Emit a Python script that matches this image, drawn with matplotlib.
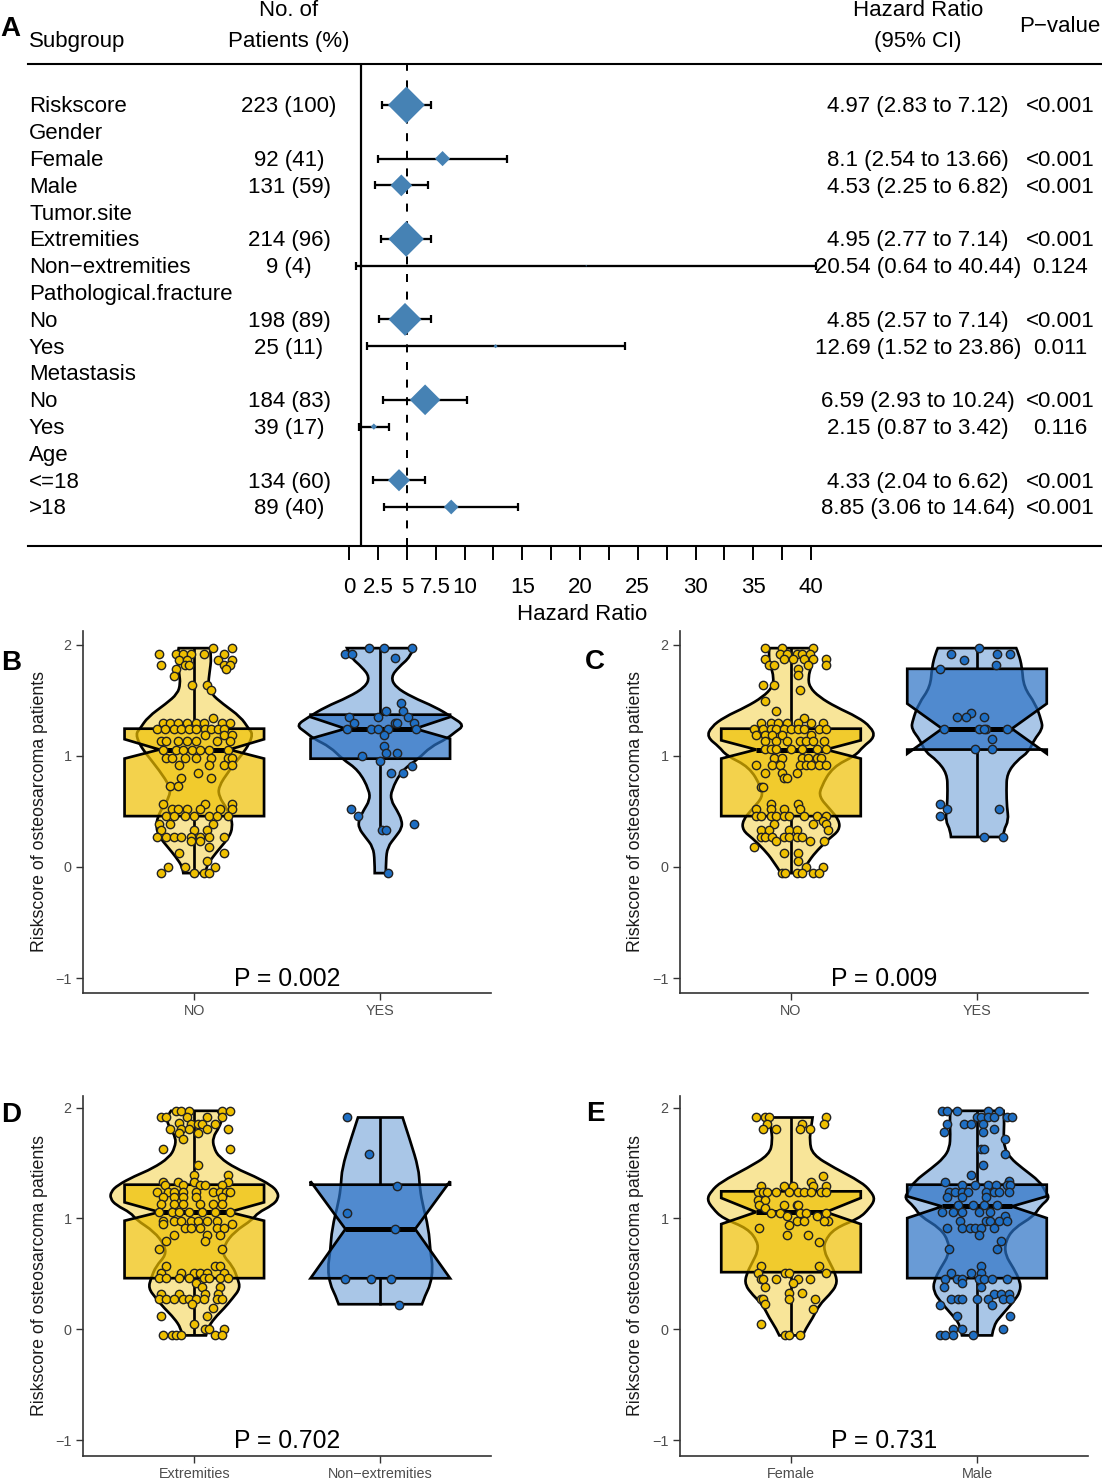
import matplotlib
matplotlib.use('Agg')
import matplotlib.pyplot as plt
import numpy as np
from matplotlib.patches import PathPatch, Polygon
from matplotlib.path import Path
from matplotlib.transforms import blended_transform_factory

plt.rcParams['font.family'] = ['Liberation Sans', 'DejaVu Sans']

W, H = 1102, 1479

# forest plot table, one entry per row
subgroups = ['Riskscore', 'Gender', 'Female', 'Male', 'Tumor.site', 'Extremities',
             'Non\u2212extremities', 'Pathological.fracture', 'No', 'Yes', 'Metastasis',
             'No', 'Yes', 'Age', '<=18', '>18']
patients = ['223 (100)', '', '92 (41)', '131 (59)', '', '214 (96)', '9 (4)', '',
            '198 (89)', '25 (11)', '', '184 (83)', '39 (17)', '', '134 (60)', '89 (40)']
percents = [100, 0, 41, 59, 0, 96, 4, 0, 89, 11, 0, 83, 17, 0, 60, 40]
hr = [4.97, np.nan, 8.1, 4.53, np.nan, 4.95, 20.54, np.nan, 4.85, 12.69, np.nan,
      6.59, 2.15, np.nan, 4.33, 8.85]
hr_low = [2.83, np.nan, 2.54, 2.25, np.nan, 2.77, 0.64, np.nan, 2.57, 1.52, np.nan,
          2.93, 0.87, np.nan, 2.04, 3.06]
hr_high = [7.12, np.nan, 13.66, 6.82, np.nan, 7.14, 40.44, np.nan, 7.14, 23.86, np.nan,
           10.24, 3.42, np.nan, 6.62, 14.64]
hr_text = ['4.97 (2.83 to 7.12)', '', '8.1 (2.54 to 13.66)', '4.53 (2.25 to 6.82)', '',
           '4.95 (2.77 to 7.14)', '20.54 (0.64 to 40.44)', '', '4.85 (2.57 to 7.14)',
           '12.69 (1.52 to 23.86)', '', '6.59 (2.93 to 10.24)', '2.15 (0.87 to 3.42)', '',
           '4.33 (2.04 to 6.62)', '8.85 (3.06 to 14.64)']
p_text = ['<0.001', '', '<0.001', '<0.001', '', '<0.001', '0.124', '', '<0.001', '0.011',
          '', '<0.001', '0.116', '', '<0.001', '<0.001']
hr_ticks = [0, 2.5, 5, 7.5, 10, 12.5, 15, 17.5, 20, 22.5, 25, 27.5, 30, 32.5, 35, 37.5, 40]
hr_tick_labels = ['0', '2.5', '5', '7.5', '10', '', '15', '', '20', '', '25', '', '30', '', '35', '', '40']

# violin outlines: score level and half width
b_no_y = [1.97, 1.89, 1.74, 1.65, 1.56, 1.47, 1.35, 1.245, 1.2, 1.11, 1.02, 0.87, 0.72, 0.63, 0.54, 0.45, 0.36, 0.27, 0.18, 0.09, 0, -0.055]
b_no_w = [.084, .093, .081, .075, .09, .152, .25, .292, .314, .296, .26, .188, .129, .134, .17, .197, .206, .188, .143, .099, .063, .059]
b_yes_y = [1.97, 1.89, 1.8, 1.71, 1.62, 1.53, 1.44, 1.35, 1.275, 1.215, 1.155, 1.08, 0.975, 0.87, 0.69, 0.6, 0.51, 0.42, 0.35, 0.27, 0.18, 0.06, -0.055]
b_yes_w = [.179, .161, .099, .057, .081, .17, .296, .385, .452, .403, .358, .269, .206, .116, .059, .057, .09, .116, .116, .081, .039, .03, .03]
c_no_y = [1.97, 1.89, 1.8, 1.71, 1.62, 1.53, 1.44, 1.35, 1.26, 1.17, 1.08, 1.005, 0.9, 0.72, 0.63, 0.527, 0.42, 0.33, 0.257, 0.153, 0.063, -0.055]
c_no_w = [.116, .122, .108, .093, .099, .152, .242, .358, .43, .452, .385, .349, .224, .161, .152, .206, .26, .26, .206, .143, .099, .054]
c_yes_y = [1.97, 1.92, 1.8, 1.62, 1.47, 1.32, 1.245, 1.14, 1.036, 0.96, 0.84, 0.69, 0.54, 0.42, 0.33, 0.27]
c_yes_w = [.211, .224, .242, .251, .314, .346, .353, .305, .278, .215, .161, .158, .161, .17, .143, .14]
d_ext_y = [1.97, 1.91, 1.82, 1.73, 1.64, 1.55, 1.45, 1.38, 1.3, 1.24, 1.18, 1.12, 1.05, 0.99, 0.88, 0.76, 0.67, 0.57, 0.46, 0.37, 0.28, 0.19, 0.1, 0.01, -0.055]
d_ext_w = [.125, .152, .134, .099, .104, .134, .224, .323, .412, .448, .452, .421, .341, .314, .215, .161, .152, .206, .233, .247, .206, .161, .108, .072, .063]
d_non_y = [1.91, 1.7, 1.45, 1.3, 1.15, 0.91, 0.7, 0.55, 0.4, 0.31, 0.226]
d_non_w = [.12, .161, .206, .211, .224, .26, .269, .283, .269, .242, .224]
e_fem_y = [1.91, 1.82, 1.7, 1.575, 1.455, 1.33, 1.244, 1.17, 1.09, 1.0, 0.91, 0.79, 0.7, 0.61, 0.49, 0.4, 0.31, 0.22, 0.1, 0.01, -0.055]
e_fem_w = [.116, .108, .099, .116, .233, .376, .43, .452, .421, .367, .233, .179, .179, .206, .242, .247, .206, .152, .116, .081, .063]
e_mal_y = [1.97, 1.88, 1.76, 1.635, 1.545, 1.455, 1.33, 1.244, 1.184, 1.11, 1.02, 0.91, 0.79, 0.67, 0.55, 0.43, 0.34, 0.25, 0.13, 0.04, -0.055]
e_mal_w = [.143, .147, .143, .147, .179, .242, .34, .367, .391, .34, .305, .197, .152, .152, .197, .233, .233, .197, .134, .09, .081]

# box stats: q3, upper notch, median, lower notch, q1, whisker top, whisker bottom
b_no_box = [1.245, 1.15, 1.057, 0.976, 0.458, 1.97, -0.055]
b_yes_box = [1.371, 1.35, 1.245, 1.155, 0.975, 1.97, 0.33]
c_no_box = [1.245, 1.14, 1.057, 0.976, 0.458, 1.97, -0.055]
c_yes_box = [1.784, 1.47, 1.245, 1.02, 1.057, 1.97, 0.27]
d_ext_box = [1.304, 1.145, 1.057, 0.979, 0.461, 1.97, -0.055]
d_non_box = [1.304, 1.334, 0.904, 0.46, 0.46, 1.91, 0.22]
e_fem_box = [1.244, 1.184, 1.057, 0.949, 0.515, 1.91, -0.055]
e_mal_box = [1.304, 1.199, 1.108, 1.003, 0.461, 1.97, -0.055]

# jittered patients: score level -> offsets from the category centre
b_no_pts = {1.97: [.10, .20], 1.92: [-.19, -.10, -.06, -.02, .05, .16], 1.86: [-.08, -.04, .13, .20],
            1.82: [-.18, -.05, -.03, .16, .19], 1.78: [-.10, .17], 1.72: [-.11], 1.64: [-.01, .07], 1.59: [.09],
            1.34: [.10], 1.30: [-.17, -.13, -.09, -.04, .01, .05, .15, .19],
            1.245: [-.20, -.16, -.11, -.07, -.03, .01, .06, .09, .13, .16], 1.19: [.06, .16, .20],
            1.13: [-.18, -.15, -.09, -.04, .01, .12, .19], 1.057: [-.17, -.10, -.06, -.01, .03, .08, .18],
            .98: [-.15, -.12, -.05, .01, .09, .18, .2], .92: [-.08, .08, .16, .2], .85: [.02], .80: [-.07, .09],
            .73: [-.13, -.09], .57: [-.17, .06, .2], .52: [-.12, -.09, -.04, .03, .14, .2],
            .46: [-.15, -.11, -.05, 0, .08, .12, .18], .385: [-.19, -.13, .1], .33: [-.18, 0, .07],
            .27: [-.2, -.15, -.11, -.07, -.02, .03, .08, .16], .23: [-.02, .03], .18: [.08], .13: [-.08, .16],
            .05: [.07], 0: [-.14, -.05, .11], -.055: [-.18, 0, .05, .08]}
b_yes_pts = {1.97: [-.06, .02, .17], 1.92: [-.19, -.15], 1.88: [.08], 1.48: [.11], 1.40: [.03, .12],
             1.35: [-.17, -.01, .15], 1.30: [-.14, .08, .09, .18], 1.245: [-.18, -.05, -.01, .04, .19], 1.19: [.02],
             1.09: [.02], 1.03: [.03, .09], 1.0: [-.1], .95: [0], .91: [.17], .85: [.06, .12], .52: [-.16],
             .46: [-.12], .385: [.18], .33: [.01, .03], -.055: [.04]}
c_no_pts = {1.97: [-.14, -.05, .12], 1.92: [-.06, -.02, .03, .06, .1], 1.87: [-.14, -.04, .01, .07, .12, .19],
            1.82: [-.12, -.09, .09, .19], 1.78: [.04], 1.73: [.04], 1.64: [-.15, -.09], 1.59: [.05], 1.49: [-.14],
            1.40: [-.08], 1.34: [.07], 1.30: [-.16, -.11, -.07, -.02, .04, .11, .17],
            1.245: [-.2, -.15, -.11, -.08, -.04, 0, .04, .07, .15, .19], 1.19: [-.19, -.14, -.1, -.05, .11],
            1.13: [-.14, -.08, -.02, .05, .08, .12, .18], 1.06: [-.14, -.11, -.08, 0, .06, .14, .19],
            .98: [-.09, -.05, .06, .09, .14, .16], .92: [-.19, -.1, -.06, .05, .08, .11, .15, .19],
            .85: [-.14, -.05, .03], .80: [-.04, -.02], .72: [-.16, -.15], .57: [-.11, .04],
            .52: [-.19, -.11, -.04, .05], .46: [-.19, -.16, -.11, -.08, -.04, -.01, .07, .14, .19], .41: [.17],
            .385: [-.09, .12, .19], .33: [-.16, -.12, -.01, .03, .2], .27: [-.16, -.14, -.1, -.04, -.01, .03, .06],
            .23: [-.08, .1, .18], .18: [-.2], .13: [-.04, .04], .05: [.04], 0: [.08, .17],
            -.055: [-.05, -.03, .03, .06, .12, .15]}
c_yes_pts = {1.97: [.01], 1.92: [-.14, .11, .18], 1.86: [-.07], 1.82: [.1], 1.78: [-.2], 1.39: [-.03],
             1.35: [-.11, -.06, .04], 1.245: [-.18, .01, .05, .04, .16], 1.155: [.08], 1.06: [-.01, .08], .57: [-.2],
             .52: [-.16, .12], .46: [-.2], .27: [.04, .14]}
d_ext_pts = {1.97: [-.1, -.07, -.03, .15, .19], 1.91: [-.18, -.15, -.04, .07, .15], 1.86: [-.08],
             1.85: [-.02, .02, .04, .11], 1.81: [-.13, -.07, -.03, .07, .18], 1.77: [-.08, .02], 1.72: [-.06],
             1.625: [-.17, .19], 1.48: [.02], 1.39: [0, .18], 1.33: [-.17, -.09, 0, .18],
             1.30: [-.16, -.06, .03, .06, .15], 1.24: [-.2, -.14, -.11, -.06, .01, .1, .14, .17, .19],
             1.19: [-.17, -.11, -.06, .01, .15], 1.13: [-.18, -.11, -.06, .03, .1, .15],
             1.06: [-.19, -.12, -.08, -.03, .04, .11, .19], .98: [-.17, -.11, -.07, -.02, .02, .07, .12],
             .945: [-.17, .2], .91: [-.05, -.02, .03, .12, .16], .85: [-.11, .07, .14], .80: [-.15, .06],
             .72: [-.19, .15], .57: [-.15, .11, .14], .51: [-.18, -.07, 0, .03, .07, .16],
             .46: [-.19, -.15, -.08, -.03, .05, .08, .14, .18], .42: [.01], .38: [.04, .14],
             .32: [-.18, -.08, .06, .13], .27: [-.19, -.15, -.11, -.06, -.03, .01, .05, .12, .15], .23: [-.01],
             .19: [.1], .12: [-.18, .07], .05: [0], 0: [.06, .08, .16], -.055: [-.17, -.12, -.1, -.07, .11, .15]}
d_non_pts = {1.91: [-.18], 1.58: [-.06], 1.29: [.09], 1.05: [-.18], .90: [.08], .45: [-.19, -.05, .06], .22: [.1]}
e_fem_pts = {1.91: [-.19, -.14, -.12, .19], 1.85: [-.13, .06, .18], 1.81: [-.15, -.08, .05, .1], 1.38: [.17],
             1.33: [.11], 1.29: [-.16, -.04, .01, .12, .19],
             1.24: [-.18, -.15, -.13, -.08, -.01, .04, .07, .11, .16, .19], 1.17: [-.18, -.14],
             1.12: [-.17, -.04, .03, .04], 1.09: [-.14], 1.05: [-.11, -.06, .05, .08, .19], 1.02: [-.02, .14],
             .98: [.03, .07, .2, .18], .94: [-.01], .91: [-.17], .85: [-.02, .09], .79: [.15], .57: [-.16, .15],
             .51: [-.18, -.03, -.01, .19], .45: [-.16, -.15, -.08, .04, .1], .42: [.01], .38: [-.14],
             .33: [-.01, .06], .27: [-.16, -.15, -.01, .13], .23: [-.14], .18: [.12], .05: [-.16],
             -.055: [-.03, -.01, .05]}
e_mal_pts = {1.97: [-.19, -.16, -.11, .06, .12], 1.91: [0, .02, .06, .09, .16, .19], 1.85: [-.16, -.07, -.03, .03],
             1.81: [.09], 1.78: [-.18, .03], 1.72: [.15], 1.625: [.02, .04], 1.58: [.15], 1.48: [.03], 1.39: [-.03],
             1.34: [.17], 1.33: [-.17], 1.30: [-.08, -.01, .06, .1, .16, .18],
             1.24: [-.15, -.12, -.08, -.05, .05, .09, .12, .17], 1.19: [-.16, -.08, .05],
             1.12: [-.1, -.02, .04, .11], 1.06: [-.19, -.13, -.08, .01, .07], 1.02: [.15],
             .98: [-.09, .05, .07, .12, .16], .91: [-.16, -.08, -.04, -.01, .02, .09], .85: [.01], .80: [.13],
             .72: [-.15, .11], .57: [.02], .51: [-.14, -.03, .02], .45: [-.17, -.11, -.08, .01, .04, .08, .16],
             .42: [-.08], .38: [-.18, .02], .32: [.09, .13, .17], .27: [-.14, -.1, -.08, 0, .06, .14, .18],
             .22: [-.2, .08], .12: [-.11, .18], 0: [-.13, -.08, .14], -.055: [-.2, -.17, -.13, -.02]}

YELLOW = '#EFC000'
BLUE = '#2A71C5'
DIAMOND = '#4682B4'
BOX_W = 0.375
NOTCH_W = 0.1875
PT = 72 / 100  # one pixel in points
LINE = 2.7 * PT
TEXT_SIZE = 16


def violin_patch(center, ys, ws, color):
    right = [(center + w, y) for y, w in zip(ys, ws)]
    left = [(center - w, y) for y, w in zip(ys, ws)][::-1]
    verts, codes = [], []
    for side, first in ((right, Path.MOVETO), (left, Path.LINETO)):
        verts.append(side[0])
        codes.append(first)
        for i in range(1, len(side) - 1):
            a, b = np.array(side[i]), np.array(side[i + 1])
            end = tuple(b) if i == len(side) - 2 else tuple((a + b) / 2)
            verts += [tuple(a), end]
            codes += [Path.CURVE3, Path.CURVE3]
    verts.append(right[0])
    codes.append(Path.CLOSEPOLY)
    return PathPatch(Path(verts, codes), facecolor=matplotlib.colors.to_rgba(color, 0.4),
                     edgecolor='black', lw=LINE, joinstyle='miter', zorder=2)


def draw_group(ax, center, ys, ws, box, pts, color):
    q3, nu, med, nl, q1, top, low = box
    ax.add_patch(violin_patch(center, ys, ws, color))
    # whiskers stop at the box, the box is see-through
    ax.plot([center, center], [q3, top], color='black', lw=LINE, zorder=3, solid_capstyle='butt')
    ax.plot([center, center], [q1, low], color='black', lw=LINE, zorder=3, solid_capstyle='butt')
    outline = [(-BOX_W, q3), (BOX_W, q3), (BOX_W, nu), (NOTCH_W, med), (BOX_W, nl), (BOX_W, q1),
               (-BOX_W, q1), (-BOX_W, nl), (-NOTCH_W, med), (-BOX_W, nu)]
    ax.add_patch(Polygon([(center + x, y) for x, y in outline], closed=True,
                         facecolor=matplotlib.colors.to_rgba(color, 0.7), edgecolor='black',
                         lw=LINE, joinstyle='miter', zorder=4))
    ax.plot([center - NOTCH_W, center + NOTCH_W], [med, med], color='black', lw=5 * PT,
            solid_capstyle='butt', zorder=5)
    xs = [center + o for level, offs in pts.items() for o in offs]
    ys_pts = [level for level, offs in pts.items() for o in offs]
    ax.scatter(xs, ys_pts, s=36, color=color if color == YELLOW else '#1F6FC4',
               edgecolors='#222222', linewidths=1.0, zorder=6, clip_on=False)


def draw_panel(rect, zero_px, unit_px, center_px, names, left_data, right_data, ptext, ylabel_x):
    left, top, right, bottom = rect
    ax = fig.add_axes([left / W, 1 - bottom / H, (right - left) / W, (bottom - top) / H])
    ax.set_xlim((left - center_px) / 186 + 1, (right - center_px) / 186 + 1)
    ax.set_ylim((zero_px - bottom) / unit_px, (zero_px - top) / unit_px)
    draw_group(ax, 1, *left_data, YELLOW)
    draw_group(ax, 2, *right_data, BLUE)
    ax.set_xticks([1, 2], names)
    ax.set_yticks([-1, 0, 1, 2], ['\u22121', '0', '1', '2'])
    ax.tick_params(length=5, width=1.0, color='#333333', labelcolor='#4D4D4D', labelsize=10.4, pad=3.2)
    for side in ('top', 'right'):
        ax.spines[side].set_visible(False)
    for side in ('left', 'bottom'):
        ax.spines[side].set_color('#333333')
        ax.spines[side].set_linewidth(1.2)
    ax.set_ylabel('Riskscore of osteosarcoma patients', fontsize=12.8, color='#1A1A1A')
    ax.yaxis.set_label_coords((ylabel_x + 11 - left) / (right - left), 0.5)
    ax.text(0.5, -1.01, ptext, transform=blended_transform_factory(ax.transAxes, ax.transData),
            ha='center', va='center', fontsize=17.8, color='black')
    return ax


fig = plt.figure(figsize=(W / 100, H / 100), dpi=100)

# panel A, forest plot
top_px, bottom_px, left_px = 64, 546, 28
zero_x, per_hr = 349, 11.55
first_row, row_h = 105, 26.8
ax = fig.add_axes([left_px / W, 1 - bottom_px / H, (W - left_px) / W, (bottom_px - top_px) / H])
ax.set_xlim((left_px - zero_x) / per_hr, (W - zero_x) / per_hr)
ax.set_ylim((bottom_px - first_row) / row_h, (top_px - first_row) / row_h)
rows = np.arange(len(subgroups))
ax.axvline(5, color='black', lw=2 * PT, dashes=(4, 4.8), zorder=1)
ax.axvline(1, color='black', lw=2.2 * PT, zorder=2)
hr_arr, low_arr, high_arr = np.array(hr), np.array(hr_low), np.array(hr_high)
ax.errorbar(hr_arr, rows, xerr=[hr_arr - low_arr, high_arr - hr_arr], fmt='none', ecolor='black',
            elinewidth=2.3 * PT, capsize=2.6, capthick=1.6, zorder=3, clip_on=False)
half = np.array(percents) * 0.185
keep = np.array(percents) > 0
ax.scatter(hr_arr[keep], rows[keep], s=(1.018 * half[keep]) ** 2, marker='D', color=DIAMOND,
           linewidths=0, zorder=4)
ax.set_xticks(hr_ticks, hr_tick_labels)
ax.set_yticks([])
ax.tick_params(axis='x', length=10, width=1.4, pad=12, labelsize=TEXT_SIZE, labelcolor='black')
for side in ('left', 'right'):
    ax.spines[side].set_visible(False)
for side in ('top', 'bottom'):
    ax.spines[side].set_linewidth(1.5)

# va=center sits a little high against the reference, so nudge the rows down
row_tf = blended_transform_factory(fig.transFigure, ax.transData)
for i in rows:
    ax.text(29 / W, i + 0.07, subgroups[i], transform=row_tf, ha='left', va='center', fontsize=TEXT_SIZE)
    ax.text(289 / W, i + 0.07, patients[i], transform=row_tf, ha='center', va='center', fontsize=TEXT_SIZE)
    ax.text(918 / W, i + 0.07, hr_text[i], transform=row_tf, ha='center', va='center', fontsize=TEXT_SIZE)
    ax.text(1060 / W, i + 0.07, p_text[i], transform=row_tf, ha='center', va='center', fontsize=TEXT_SIZE)


def px_text(x, y, s, **kw):
    fig.text(x / W, 1 - (y + 2) / H, s, va='center', **kw)


px_text(29, 40, 'Subgroup', ha='left', fontsize=TEXT_SIZE)
px_text(289, 8, 'No. of', ha='center', fontsize=TEXT_SIZE)
px_text(289, 40, 'Patients (%)', ha='center', fontsize=TEXT_SIZE)
px_text(918, 8, 'Hazard Ratio', ha='center', fontsize=TEXT_SIZE)
px_text(918, 40, '(95% CI)', ha='center', fontsize=TEXT_SIZE)
px_text(1060, 24, 'P\u2212value', ha='center', fontsize=TEXT_SIZE)
px_text(582, 612, 'Hazard Ratio', ha='center', fontsize=TEXT_SIZE)

# panels B to E
draw_panel((83, 631, 491, 993), 867, 111.1, 194.3, ['NO', 'YES'],
           (b_no_y, b_no_w, b_no_box, b_no_pts), (b_yes_y, b_yes_w, b_yes_box, b_yes_pts), 'P = 0.002', 37)
draw_panel((680, 631, 1088, 993), 867, 111.1, 791, ['NO', 'YES'],
           (c_no_y, c_no_w, c_no_box, c_no_pts), (c_yes_y, c_yes_w, c_yes_box, c_yes_pts), 'P = 0.009', 633)
draw_panel((83, 1096, 491, 1456), 1329.3, 110.9, 194.3, ['Extremities', 'Non\u2212extremities'],
           (d_ext_y, d_ext_w, d_ext_box, d_ext_pts), (d_non_y, d_non_w, d_non_box, d_non_pts), 'P = 0.702', 37)
draw_panel((680, 1096, 1088, 1456), 1329.3, 110.9, 791, ['Female', 'Male'],
           (e_fem_y, e_fem_w, e_fem_box, e_fem_pts), (e_mal_y, e_mal_w, e_mal_box, e_mal_pts), 'P = 0.731', 633)

for letter, x, y in (('A', 0, 27), ('B', 1, 661), ('C', 585, 660), ('D', 1, 1113), ('E', 586, 1112)):
    px_text(x, y, letter, ha='left', fontsize=20, fontweight='bold')

fig.savefig('out.png', dpi=100)
